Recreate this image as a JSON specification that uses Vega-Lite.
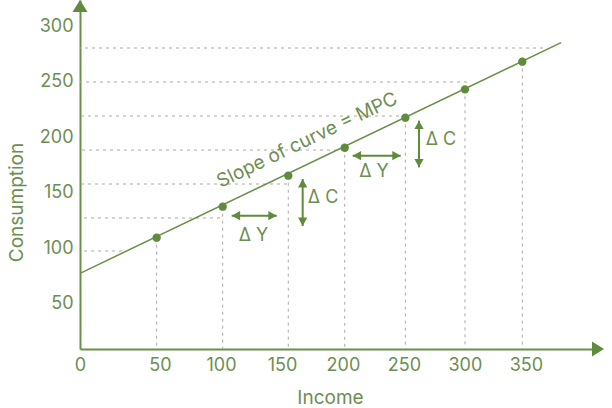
{
  "$schema": "https://vega.github.io/schema/vega-lite/v6.json",
  "width": 519,
  "height": 349,
  "autosize": "none",
  "padding": {"left": 80, "top": 0, "right": 13, "bottom": 59},
  "background": "white",
  "datasets": {
    "points": [
      {"income": 47.9, "consumption": 109.6},
      {"income": 101.4, "consumption": 137.5},
      {"income": 155.2, "consumption": 165.4},
      {"income": 201.5, "consumption": 190.5},
      {"income": 251.2, "consumption": 217.6},
      {"income": 300.1, "consumption": 243.1},
      {"income": 347.1, "consumption": 268.0}
    ],
    "hlines": [
      {"income": 364.1, "consumption": 280.3},
      {"income": 301.8, "consumption": 249.7},
      {"income": 251.7, "consumption": 219.1},
      {"income": 200.9, "consumption": 188.5},
      {"income": 154.1, "consumption": 157.9},
      {"income": 99.2, "consumption": 127.3},
      {"income": 26.3, "consumption": 97.6}
    ],
    "curve": [
      {"income": 0, "consumption": 77.5},
      {"income": 378.9, "consumption": 285.1}
    ],
    "shafts": [
      {"income": 108.8, "consumption": 129.4, "income2": 145.7, "consumption2": 129.4},
      {"income": 208.0, "consumption": 183.4, "income2": 247.4, "consumption2": 183.4},
      {"income": 167.0, "consumption": 162.4, "income2": 167.0, "consumption2": 120.1},
      {"income": 262.4, "consumption": 214.9, "income2": 262.4, "consumption2": 172.9}
    ],
    "heads": [
      {"income": 108.8, "consumption": 129.4, "dir": "left"},
      {"income": 145.7, "consumption": 129.4, "dir": "right"},
      {"income": 208.0, "consumption": 183.4, "dir": "left"},
      {"income": 247.4, "consumption": 183.4, "dir": "right"},
      {"income": 167.0, "consumption": 162.4, "dir": "up"},
      {"income": 167.0, "consumption": 120.1, "dir": "down"},
      {"income": 262.4, "consumption": 214.9, "dir": "up"},
      {"income": 262.4, "consumption": 172.9, "dir": "down"},
      {"income": 0, "consumption": 323.5, "dir": "axis-up"},
      {"income": 414.1, "consumption": 0, "dir": "axis-right"}
    ],
    "notes": [
      {"income": 126.7, "consumption": 111.1, "label": "Δ Y"},
      {"income": 225.5, "consumption": 168.7, "label": "Δ Y"},
      {"income": 183.7, "consumption": 145.3, "label": "Δ C"},
      {"income": 280.4, "consumption": 197.8, "label": "Δ C"}
    ],
    "slope": [
      {"income": 170.6, "consumption": 197.5, "label": "Slope of curve = MPC"}
    ]
  },
  "encoding": {
    "x": {
      "field": "income",
      "type": "quantitative",
      "scale": {"domain": [0, 50, 410], "range": [0, 80, 519], "nice": false, "zero": false},
      "axis": {
        "values": [0, 50, 100, 150, 200, 250, 300, 350],
        "title": "Income",
        "titleX": 250,
        "titleY": 48,
        "titleBaseline": "middle",
        "titleFontSize": 19,
        "titleFontWeight": "normal",
        "titleColor": "#6d8e52",
        "labelFontSize": 18,
        "labelColor": "#6d8e52",
        "labelBaseline": "middle",
        "labelPadding": 16,
        "labelFlush": false,
        "labelOverlap": false,
        "ticks": false,
        "tickSize": 0,
        "grid": false,
        "domainColor": "#6a9049",
        "domainWidth": 2
      }
    },
    "y": {
      "field": "consumption",
      "type": "quantitative",
      "scale": {"domain": [0, 50, 323.5], "range": [349, 303.9, 0], "nice": false, "zero": false},
      "axis": {
        "values": [50, 100, 150, 200, 250, 300],
        "title": "Consumption",
        "titleX": -64,
        "titleY": 202,
        "titleAngle": -90,
        "titleAlign": "center",
        "titleBaseline": "middle",
        "titleFontSize": 19,
        "titleFontWeight": "normal",
        "titleColor": "#6d8e52",
        "labelFontSize": 18,
        "labelColor": "#6d8e52",
        "labelPadding": 7,
        "labelFlush": false,
        "labelOverlap": false,
        "ticks": false,
        "tickSize": 0,
        "grid": false,
        "domainColor": "#6a9049",
        "domainWidth": 2
      }
    }
  },
  "layer": [
    {
      "data": {"name": "hlines"},
      "mark": {"type": "rule", "color": "#aaaaa0", "strokeWidth": 1, "strokeDash": [3, 4]},
      "encoding": {"x2": {"datum": 0}}
    },
    {
      "data": {"name": "points"},
      "mark": {"type": "rule", "color": "#aaaaa0", "strokeWidth": 1, "strokeDash": [3, 4]},
      "encoding": {"y2": {"datum": 0}}
    },
    {
      "data": {"name": "curve"},
      "mark": {"type": "line", "color": "#6a9049", "strokeWidth": 1.5},
      "encoding": {}
    },
    {
      "data": {"name": "points"},
      "mark": {"type": "circle", "color": "#5f8b3d", "opacity": 1, "size": 70},
      "encoding": {}
    },
    {
      "data": {"name": "shafts"},
      "mark": {"type": "rule", "color": "#5f8b3d", "strokeWidth": 2},
      "encoding": {
        "x2": {"field": "income2"},
        "y2": {"field": "consumption2"}
      }
    },
    {
      "data": {"name": "heads"},
      "mark": {"type": "point", "filled": true, "color": "#5f8b3d", "opacity": 1, "size": 64, "strokeWidth": 0},
      "encoding": {
        "shape": {
          "field": "dir",
          "type": "nominal",
          "legend": null,
          "scale": {
            "domain": ["left", "right", "up", "down", "axis-up", "axis-right"],
            "range": [
              "M0,0L2.1,-1.15L2.1,1.15Z",
              "M0,0L-2.1,-1.15L-2.1,1.15Z",
              "M0,0L-1.15,2.1L1.15,2.1Z",
              "M0,0L-1.15,-2.1L1.15,-2.1Z",
              "M0,0L-1.875,3L1.875,3Z",
              "M0,0L-3,-1.875L-3,1.875Z"
            ]
          }
        }
      }
    },
    {
      "data": {"name": "notes"},
      "mark": {"type": "text", "font": "Inter", "fontSize": 18, "color": "#6d8e52", "align": "center", "baseline": "middle"},
      "encoding": {"text": {"field": "label"}}
    },
    {
      "data": {"name": "slope"},
      "mark": {"type": "text", "font": "Inter", "fontSize": 19, "color": "#6d8e52", "align": "center", "baseline": "middle", "angle": -25.5},
      "encoding": {"text": {"field": "label"}}
    }
  ],
  "config": {
    "view": {"stroke": null},
    "font": "Inter",
    "axis": {"labelFont": "Inter", "titleFont": "Inter"}
  }
}
